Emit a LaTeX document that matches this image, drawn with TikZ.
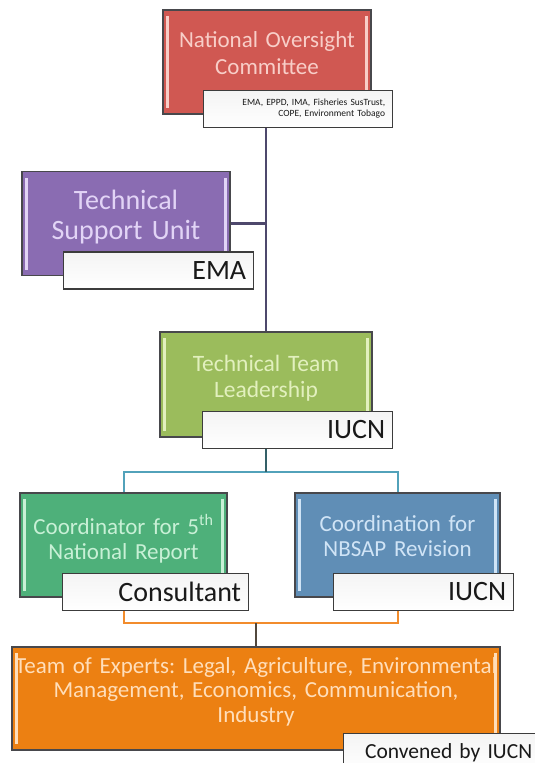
\documentclass[tikz,border=0pt]{standalone}
\usepackage{fontspec}
\setmainfont{Carlito}
\frenchspacing
\usetikzlibrary{positioning}
\definecolor{boxedge}{RGB}{72,72,76}
\definecolor{tagedge}{RGB}{60,60,60}
\definecolor{tagtop}{RGB}{244,244,244}
\definecolor{tagtext}{RGB}{25,25,25}
\definecolor{nocred}{RGB}{208,88,82}
\definecolor{noclight}{RGB}{248,206,200}
\definecolor{tsupurple}{RGB}{138,108,178}
\definecolor{tsulight}{RGB}{226,212,246}
\definecolor{ttlgreen}{RGB}{155,188,92}
\definecolor{ttllight}{RGB}{226,240,190}
\definecolor{cfrgreen}{RGB}{78,176,122}
\definecolor{cfrlight}{RGB}{200,240,214}
\definecolor{nbsblue}{RGB}{96,142,182}
\definecolor{nbslight}{RGB}{208,228,246}
\definecolor{toxorange}{RGB}{236,128,18}
\definecolor{toxlight}{RGB}{255,222,186}
\definecolor{trunkline}{RGB}{78,72,108}
\definecolor{blueline}{RGB}{82,162,186}
\definecolor{bluestem}{RGB}{52,96,104}
\definecolor{orangeline}{RGB}{242,140,44}
\definecolor{orangestem}{RGB}{82,72,62}
\tikzset{
  box/.style={rectangle, draw=boxedge, line width=1.6pt, align=center,
    minimum height=104pt, inner xsep=0pt, inner ysep=2pt,
    execute at end node={\rule[-17pt]{0pt}{1pt}}},
  strips/.style={path picture={
    \fill[#1] ([xshift=3pt,yshift=-6pt]path picture bounding box.north west)
      rectangle ([xshift=6pt,yshift=6pt]path picture bounding box.south west);
    \fill[#1] ([xshift=-3pt,yshift=-6pt]path picture bounding box.north east)
      rectangle ([xshift=-6pt,yshift=6pt]path picture bounding box.south east);}},
  tag/.style={rectangle, draw=tagedge, line width=1.3pt, top color=tagtop,
    bottom color=white, minimum height=37pt, inner xsep=7pt, inner ysep=0pt,
    align=right, text=tagtext, anchor=north east,
    font=\fontsize{28}{30}\selectfont},
  trunk/.style={line width=2.2pt, color=trunkline},
  bluelink/.style={line width=2pt, color=blueline},
  bluestemlink/.style={line width=2pt, color=bluestem},
  orangelink/.style={line width=2pt, color=orangeline},
  orangestemlink/.style={line width=2pt, color=orangestem}
}
\begin{document}
\begin{tikzpicture}[x=1pt, y=-1pt]
  \useasboundingbox (0,0) rectangle (535,763);
  \fill[white] (0,0) rectangle (535,763);

  % boxes
  \node[box, fill=nocred, strips=noclight, text=noclight, text width=208pt,
    font=\fontsize{23}{27}\selectfont] (noc) at (267,62)
    {National Oversight\\Committee};
  \node[box, fill=tsupurple, strips=tsulight, text=tsulight, text width=208pt,
    font=\fontsize{28}{30}\selectfont] (tsu) at (126,223.5)
    {Technical\\Support Unit};
  \node[box, fill=ttlgreen, strips=ttllight, text=ttllight, text width=212pt,
    minimum height=105pt, font=\fontsize{23.5}{26}\selectfont] (ttl) at (266,384.5)
    {Technical Team\\Leadership};
  \node[box, fill=cfrgreen, strips=cfrlight, text=cfrlight, text width=207pt,
    font=\fontsize{23}{25}\selectfont] (cfr) at (123.5,545)
    {Coordinator for 5\textsuperscript{th}\\National Report};
  \node[box, fill=nbsblue, strips=nbslight, text=nbslight, text width=205pt,
    font=\fontsize{23}{25}\selectfont] (nbs) at (397.5,545)
    {Coordination for\\NBSAP Revision};
  \node[box, fill=toxorange, strips=toxlight, text=toxlight, text width=488pt,
    minimum height=103pt, font=\fontsize{23}{24.5}\selectfont,
    execute at end node={\rule[-12pt]{0pt}{1pt}}] (tox) at (256,698.5)
    {Team of Experts: Legal, Agriculture, Environmental\\Management, Economics, Communication,\\Industry};

  % tags
  \node[tag, text width=175pt, font=\fontsize{9.5}{11}\selectfont]
    (noctag) at ([xshift=21pt,yshift=25pt]noc.south east)
    {EMA, EPPD, IMA, Fisheries SusTrust,\\COPE, Environment Tobago};
  \node[tag, text width=176pt] (tsutag) at ([xshift=23pt,yshift=25pt]tsu.south east) {EMA};
  \node[tag, text width=176pt] (ttltag) at ([xshift=20pt,yshift=27pt]ttl.south east) {IUCN};
  \node[tag, text width=172pt] (cfrtag) at ([xshift=21pt,yshift=25pt]cfr.south east) {Consultant};
  \node[tag, text width=166pt] (nbstag) at ([xshift=13pt,yshift=25pt]nbs.south east) {IUCN};
  \node[tag, text width=182pt, minimum height=38pt, font=\fontsize{21.5}{24}\selectfont]
    (toxtag) at ([xshift=39pt,yshift=18pt]tox.south east) {Convened by IUCN};

  % connectors
  \draw[trunk] (noctag.south -| ttl.north) -- (ttl.north);
  \draw[trunk] (tsu.east) -- (tsu.east -| ttl.north);
  \coordinate (bsplit) at (266,472);
  \draw[bluelink] (cfr.north) |- (bsplit) -| (nbs.north);
  \draw[bluestemlink] (ttltag.south -| bsplit) -- (bsplit);
  \coordinate (osplit) at (256,623);
  \draw[orangelink] (cfrtag.south -| cfr.north) |- (osplit) -| (nbstag.south -| nbs.north);
  \draw[orangestemlink] (osplit) -- (tox.north);
\end{tikzpicture}
\end{document}
